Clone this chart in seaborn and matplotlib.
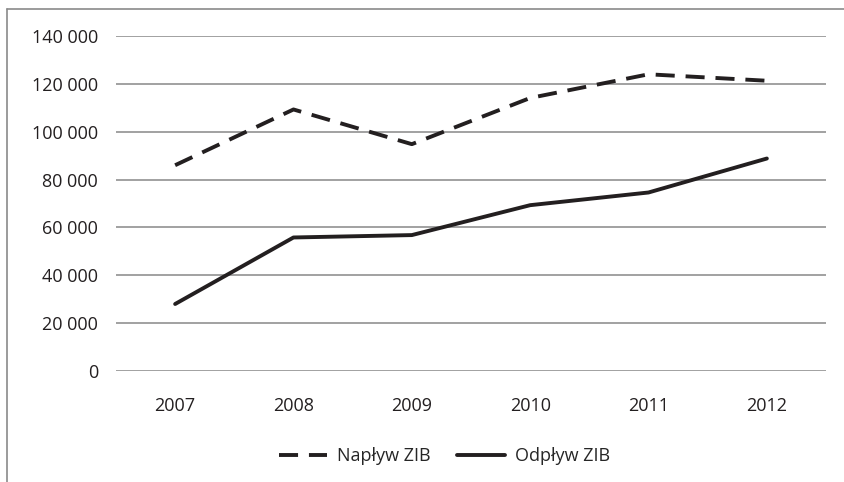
import numpy as np
import pandas as pd
import seaborn as sns
import matplotlib.pyplot as plt
from matplotlib.lines import Line2D

years = ["2007", "2008", "2009", "2010", "2011", "2012"]
naplyw = [86000, 109300, 94800, 114100, 124000, 121300]
odplyw = [28000, 55800, 56800, 69300, 74600, 88800]
series_names = ["Napływ ZIB", "Odpływ ZIB"]
y_ticks = [0, 20000, 40000, 60000, 80000, 100000, 120000, 140000]


def fmt_pl(v):
    # thousands separated by a space, like the original
    return "{:,}".format(int(v)).replace(",", " ")


def main():
    sns.set_style("white")
    plt.rcParams['font.family'] = ['Open Sans', 'DejaVu Sans']

    df = pd.DataFrame({
        "year": years * 2,
        "value": naplyw + odplyw,
        "series": [series_names[0]] * len(years) + [series_names[1]] * len(years),
    })

    fig = plt.figure(figsize=(8.44, 4.82), dpi=100)
    ax = fig.add_axes([0.1374, 0.2303, 0.8413, 0.695])

    sns.lineplot(data=df, x="year", y="value", hue="series", style="series",
                 palette=["#231f20", "#231f20"], dashes=[(4.9, 2.8), ""],
                 linewidth=2.8, sort=False, ax=ax)

    ax.set_xlim(-0.5, len(years) - 0.5)
    ax.set_ylim(0, 140000)
    ax.set_yticks(y_ticks)
    ax.set_yticklabels([fmt_pl(v) for v in y_ticks])
    ax.yaxis.grid(True, color="#9a9a9a", linewidth=1.3)
    ax.xaxis.grid(False)
    ax.tick_params(axis="both", length=0, labelsize=13, colors="#231f20")
    ax.tick_params(axis="y", pad=13)
    ax.tick_params(axis="x", pad=19)
    ax.set_xlabel("")
    ax.set_ylabel("")
    for s in ax.spines.values():
        s.set_visible(False)

    ax.legend(loc="center", bbox_to_anchor=(0.463, -0.254), ncol=2,
              frameon=False, fontsize=13, handlelength=2.66, columnspacing=1.44,
              handletextpad=0.55)

    # outer frame (left and top edges visible in the original)
    fig.add_artist(Line2D([0.0087, 0.0087], [0.0, 0.981], transform=fig.transFigure,
                          color="#8a8a8a", linewidth=1.2))
    fig.add_artist(Line2D([0.0087, 1.0], [0.981, 0.981], transform=fig.transFigure,
                          color="#8a8a8a", linewidth=1.2))

    plt.savefig("out.png", dpi=100)


if __name__ == "__main__":
    main()
